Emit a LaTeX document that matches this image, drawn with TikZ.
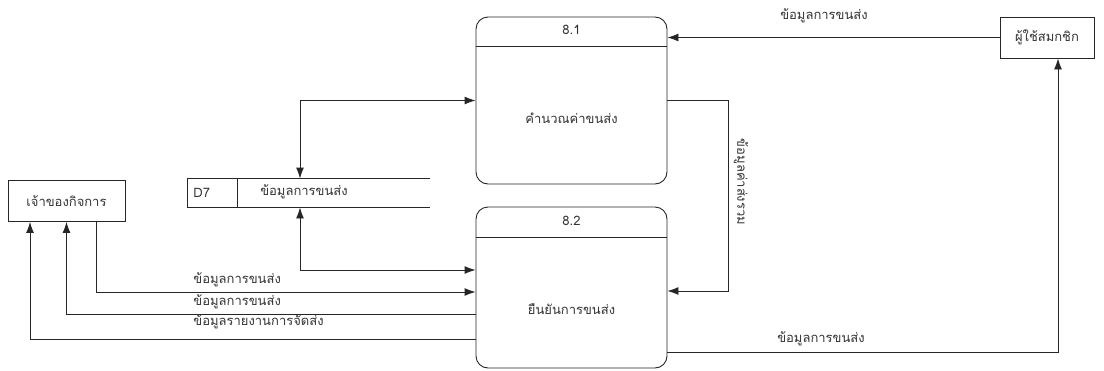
\documentclass[tikz,border=0pt]{standalone}
\usepackage{fontspec}
\newfontfamily\thaifont[Script=Thai]{Loma}
\usetikzlibrary{arrows.meta}
\tikzset{
  proc/.style={draw, rounded corners=12pt, minimum width=191pt, minimum height=167pt, inner sep=0pt},
  ent/.style={draw, minimum height=41pt, inner sep=0pt},
  store/.style={minimum width=242pt, minimum height=28pt, inner sep=0pt},
  flow/.style={-{Latex[length=11pt,width=8pt]}},
  both/.style={{Latex[length=11pt,width=8pt]}-{Latex[length=11pt,width=8pt]}},
  lbl/.style={inner sep=1pt, text=black!80},
}
\begin{document}
\begin{tikzpicture}[x=1pt, y=-1pt, line width=0.9pt, draw=black!85,
    font=\thaifont\fontsize{13}{15}\selectfont]
    \useasboundingbox (0,0) rectangle (1104,370);
    % processes
    \node[proc] (p81) at (571.5,100.5) {};
    \node[proc, minimum height=161pt] (p82) at (571.5,287.5) {};
    \draw (p81.west |- 0,46) -- (p81.east |- 0,46);
    \draw (p82.west |- 0,237) -- (p82.east |- 0,237);
    \node[lbl] (t81) at (571.5,30) {8.1};
    \node[lbl] (n81) at (571.5,118) {คำนวณค่าขนส่ง};
    \node[lbl] (t82) at (571.5,221) {8.2};
    \node[lbl] (n82) at (571.5,309) {ยืนยันการขนส่ง};
    % external entities
    \node[ent, minimum width=94pt, lbl] (user) at (1047,37.5) {ผู้ใช้สมกชิก};
    \node[ent, minimum width=117pt, lbl] (owner) at (66.5,201) {เจ้าของกิจการ};
    % data store D7
    \node[store] (d7) at (309,193) {};
    \draw (d7.north east) -- (d7.north west) -- (d7.south west) -- (d7.south east);
    \draw (237,179) -- (237,207);
    \node[lbl, anchor=west] (d7id) at (192,193) {D7};
    \node[lbl] (d7name) at (304,192) {ข้อมูลการขนส่ง};
    % flows
    \draw[flow] (user.west) -- (p81.east |- user.west);
    \node[lbl] (f1) at (824,16) {ข้อมูลการขนส่ง};
    \draw[flow] (p81.east |- 0,100) -| (728,291) -- (p82.east |- 0,291);
    \node[lbl, rotate=-90] (f2) at (741,182) {ข้อมูลค่าส่งรวม};
    \draw[flow] (p82.east |- 0,352) -| ([xshift=11pt]user.south);
    \node[lbl] (f3) at (821,339) {ข้อมูลการขนส่ง};
    \draw[both] (p81.west) -| ([xshift=-9pt]d7.north);
    \draw[both] ([xshift=-9pt]d7.south) |- (p82.west |- 0,270);
    \draw[flow] ([xshift=29.5pt]owner.south) |- (p82.west |- 0,292);
    \node[lbl, anchor=west] (f4) at (192,280) {ข้อมูลการขนส่ง};
    \draw[flow] (p82.west |- 0,314) -| (owner.south);
    \node[lbl, anchor=west] (f5) at (192,302) {ข้อมูลการขนส่ง};
    \draw[flow] (p82.west |- 0,339) -| ([xshift=-36.5pt]owner.south);
    \node[lbl, anchor=west] (f6) at (192,322) {ข้อมูลรายงานการจัดส่ง};
\end{tikzpicture}
\end{document}
